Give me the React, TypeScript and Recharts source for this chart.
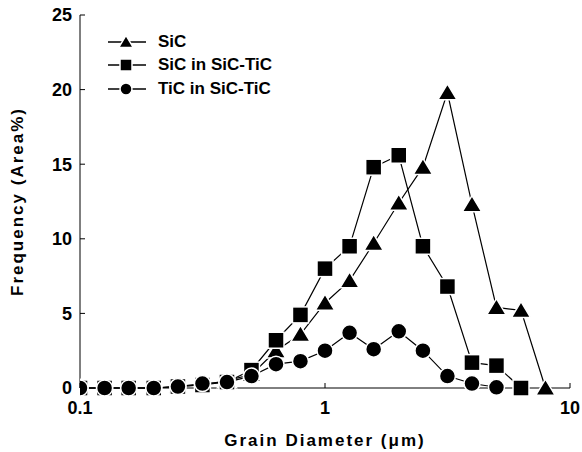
import React from 'react';
import { LineChart, Line, XAxis, YAxis } from 'recharts';

// grain diameter classes (um), log spaced, 10 per decade
const diameters = [0.1, 0.126, 0.158, 0.2, 0.251, 0.316, 0.398, 0.501, 0.631, 0.794, 1.0, 1.26, 1.58, 2.0, 2.51, 3.16, 3.98, 5.01, 6.31, 7.94];

const sicValues = [0, 0, 0, 0, 0.1, 0.2, 0.5, 0.9, 2.5, 3.6, 5.7, 7.2, 9.7, 12.4, 14.8, 19.8, 12.3, 5.4, 5.2, 0];
const sicInCompositeValues = [0, 0, 0, 0, 0.1, 0.2, 0.4, 1.2, 3.2, 4.9, 8.0, 9.5, 14.8, 15.6, 9.5, 6.8, 1.7, 1.5, 0, null];
const ticInCompositeValues = [0, 0, 0, 0, 0.1, 0.3, 0.4, 0.8, 1.6, 1.8, 2.5, 3.7, 2.6, 3.8, 2.5, 0.8, 0.3, 0.05, null, null];

const xTicks = [0.1, 1, 10];
const yTicks = [0, 5, 10, 15, 20, 25];

const seriesNames = ['SiC', 'SiC in SiC-TiC', 'TiC in SiC-TiC'];

const data = diameters.map((d, i) => ({
  d,
  sic: sicValues[i],
  sicComposite: sicInCompositeValues[i],
  ticComposite: ticInCompositeValues[i],
}));

const FONT = '"Liberation Sans", Arial, Helvetica, sans-serif';

type Shape = 'triangle' | 'square' | 'circle';

const Marker = ({ shape, cx, cy, size, gap }: { shape: Shape; cx: number; cy: number; size: number; gap: number }) => {
  const h = size / 2;
  const common = { fill: '#000', stroke: '#fff', strokeWidth: gap };
  if (shape === 'triangle') {
    const pts = `${cx},${cy - h * 1.1} ${cx - h * 1.2},${cy + h * 0.9} ${cx + h * 1.2},${cy + h * 0.9}`;
    return <polygon points={pts} {...common} />;
  }
  if (shape === 'square') {
    return <rect x={cx - h} y={cy - h} width={size} height={size} {...common} />;
  }
  return <circle cx={cx} cy={cy} r={h} {...common} />;
};

const makeDot = (shape: Shape) => (props: any) => {
  const { cx, cy, index } = props;
  if (cx == null || cy == null || props.value == null) return <g key={`${shape}-${index}`} />;
  return (
    <g key={`${shape}-${index}`}>
      <Marker shape={shape} cx={cx} cy={cy} size={16} gap={1.5} />
    </g>
  );
};

const shapes: Shape[] = ['triangle', 'square', 'circle'];
const keys = ['sic', 'sicComposite', 'ticComposite'];

const tickStyle = { fontFamily: FONT, fontWeight: 'bold', fontSize: 18, fill: '#000' };
const titleStyle = { fontFamily: FONT, fontWeight: 'bold', fontSize: 17, fill: '#000', letterSpacing: 2 };

export default function App() {
  return (
    <div style={{ position: 'absolute', left: 0, top: 0, width: 582, height: 452, background: '#fff' }}>
      <LineChart width={582} height={452} data={data} margin={{ top: 15, right: 12, bottom: 0, left: 0 }}>
        <XAxis
          dataKey="d"
          type="number"
          scale="log"
          domain={[0.1, 10]}
          ticks={xTicks}
          allowDataOverflow
          height={64}
          stroke="#000"
          tickSize={-5}
          tickMargin={18}
          tick={tickStyle}
          tickFormatter={(v: number) => String(v)}
          label={{ value: 'Grain Diameter (\u03bcm)', position: 'insideBottom', offset: 6, style: titleStyle }}
        />
        <XAxis xAxisId="top" orientation="top" dataKey="d" type="number" scale="log" domain={[0.1, 10]} allowDataOverflow height={0} tick={false} tickLine={false} stroke="#000" />
        <YAxis
          type="number"
          domain={[0, 25]}
          ticks={yTicks}
          width={80}
          stroke="#000"
          tickSize={-5}
          tickMargin={13}
          tick={tickStyle}
          label={{ value: 'Frequency (Area%)', angle: -90, position: 'insideLeft', offset: 17, style: { ...titleStyle, textAnchor: 'middle' } }}
        />
        <YAxis yAxisId="right" orientation="right" type="number" domain={[0, 25]} width={0} tick={false} tickLine={false} stroke="#000" />
        {keys.map((k, i) => (
          <Line
            key={k}
            dataKey={k}
            name={seriesNames[i]}
            stroke="#000"
            strokeWidth={1.2}
            dot={makeDot(shapes[i])}
            activeDot={false}
            isAnimationActive={false}
          />
        ))}
      </LineChart>
      <div style={{ position: 'absolute', left: 108, top: 30, fontFamily: FONT, fontWeight: 'bold', fontSize: 17, color: '#000' }}>
        {seriesNames.map((name, i) => (
          <div key={name} style={{ display: 'flex', alignItems: 'center', height: 23.5 }}>
            <svg width={40} height={16} style={{ marginRight: 10 }}>
              <line x1={0} y1={8} x2={38} y2={8} stroke="#000" strokeWidth={1.4} />
              <Marker shape={shapes[i]} cx={18} cy={8} size={12} gap={1.5} />
            </svg>
            <span>{name}</span>
          </div>
        ))}
      </div>
    </div>
  );
}
